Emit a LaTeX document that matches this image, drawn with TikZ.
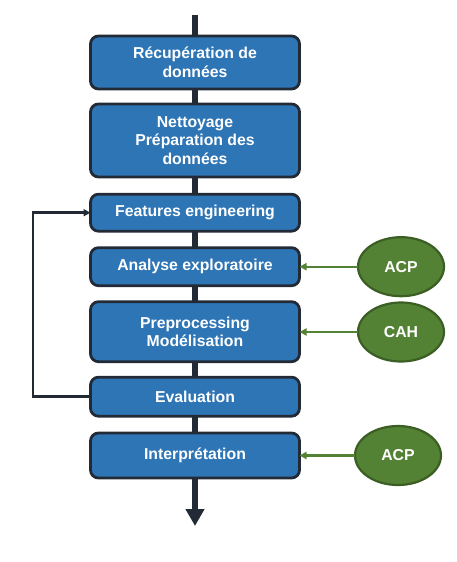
\documentclass[tikz,border=0pt]{standalone}
\usepackage{fontspec}
\setmainfont{Liberation Sans}
\usetikzlibrary{arrows.meta,shapes.geometric}
\definecolor{boxblue}{HTML}{2E75B6}
\definecolor{boxedge}{HTML}{222A35}
\definecolor{gfill}{HTML}{548235}
\definecolor{gedge}{HTML}{3B5E24}
\tikzset{
  stepbox/.style={draw=boxedge, fill=boxblue, line width=2.8pt, rounded corners=8pt,
    minimum width=209pt, inner sep=0pt, outer sep=0pt, text=white, align=center,
    font=\bfseries\fontsize{15.8}{18.5}\selectfont},
  tool/.style={ellipse, draw=gedge, fill=gfill, line width=2.2pt, minimum width=86pt,
    minimum height=59pt, inner sep=0pt, outer sep=0pt, text=white,
    font=\bfseries\fontsize{15.8}{18.5}\selectfont},
  mainline/.style={draw=boxedge, line width=5.5pt},
  loopline/.style={draw=boxedge, line width=2.5pt, -{Triangle[width=7pt,length=7pt]}},
  greenarrow/.style={draw=gfill, line width=2.2pt, -{Triangle[width=7pt,length=7pt]}}
}
\begin{document}
\begin{tikzpicture}[x=1pt,y=-1pt]
\useasboundingbox (0,0) rectangle (457,562);
\coordinate (top) at (195,15);
\coordinate (bottom) at (195,526);
\node[stepbox, minimum height=53pt] (b1) at (195,62.5) {Récupération de\\données};
\node[stepbox, minimum height=73pt] (b2) at (195,140.5) {Nettoyage\\Préparation des\\données};
\node[stepbox, minimum height=37pt] (b3) at (195,212.7) {Features engineering};
\node[stepbox, minimum height=38pt] (b4) at (195,266.7) {Analyse exploratoire};
\node[stepbox, minimum height=60pt] (b5) at (195,331.7) {Preprocessing\\Modélisation};
\node[stepbox, minimum height=39pt] (b6) at (195,396.7) {Evaluation};
\node[stepbox, minimum height=45pt] (b7) at (195,455.5) {Interprétation};
\node[tool] (e1) at (401,266.7) {ACP};
\node[tool] (e2) at (401,332) {CAH};
\node[tool] (e3) at (398,455.5) {ACP};
\draw[mainline] (top) -- (b1.north);
\draw[mainline] (b1.south) -- (b2.north);
\draw[mainline] (b2.south) -- (b3.north);
\draw[mainline] (b3.south) -- (b4.north);
\draw[mainline] (b4.south) -- (b5.north);
\draw[mainline] (b5.south) -- (b6.north);
\draw[mainline] (b6.south) -- (b7.north);
\draw[mainline, -{Triangle[width=18pt,length=17pt]}] (b7.south) -- (bottom);
\coordinate (lb) at (33,396.7);
\coordinate (lt) at (33,212.7);
\draw[loopline] (b6.west) -- (lb) -- (lt) -- (b3.west);
\draw[greenarrow] (e1.west) -- (b4.east);
\draw[greenarrow] (e2.west) -- (b5.east |- e2.west);
\draw[greenarrow] (e3.west) -- (b7.east);
\end{tikzpicture}
\end{document}
